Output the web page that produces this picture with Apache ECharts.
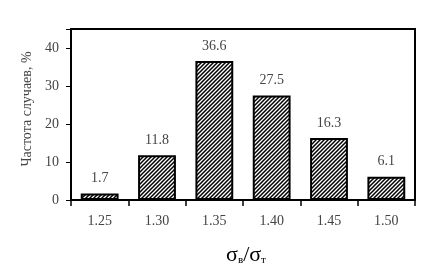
<!DOCTYPE html>
<html><head><meta charset="utf-8">
<script src="https://cdn.jsdelivr.net/npm/echarts@6/dist/echarts.min.js"></script>
<style>html,body{margin:0;padding:0;background:#fff}#c{width:430px;height:278px}</style>
</head><body><div id="c"></div>
<script>
var categories = ['1.25', '1.30', '1.35', '1.40', '1.45', '1.50'];
var values = [1.7, 11.8, 36.6, 27.5, 16.3, 6.1];
var yTicks = [0, 10, 20, 30, 40];

function hatch() {
  var c = document.createElement('canvas');
  c.width = 4; c.height = 4;
  var g = c.getContext('2d');
  g.fillStyle = '#fff'; g.fillRect(0, 0, 4, 4);
  g.strokeStyle = '#000'; g.lineWidth = 1.5;
  g.beginPath();
  g.moveTo(-1, 5); g.lineTo(5, -1);
  g.moveTo(-1, 1); g.lineTo(1, -1);
  g.moveTo(3, 5); g.lineTo(5, 3);
  g.stroke();
  return c;
}

var font = 'Liberation Serif';
var chart = echarts.init(document.getElementById('c'), null, {renderer: 'canvas'});
chart.setOption({
  animation: false,
  grid: {left: 71, right: 15, top: 29, bottom: 78, show: true, borderColor: '#000', borderWidth: 2,
    backgroundColor: 'transparent', containLabel: false, outerBoundsMode: 'none'},
  xAxis: {
    type: 'category', data: categories,
    name: '{s|σ}{b|в}{s|/σ}{b|т}', nameLocation: 'middle', nameGap: 44,
    nameTextStyle: {padding: [0, 0, 0, 6], rich: {
      s: {fontFamily: font, fontSize: 22, color: '#000'},
      b: {fontFamily: font, fontSize: 11, color: '#000', verticalAlign: 'bottom'}
    }},
    axisLine: {lineStyle: {color: '#000', width: 2}},
    axisTick: {show: true, length: 6, lineStyle: {color: '#000', width: 1.5}},
    axisLabel: {fontFamily: font, fontSize: 14, color: '#444', margin: 14}
  },
  yAxis: {
    type: 'value', min: 0, max: 45, interval: 10,
    name: 'Частота случаев, %', nameLocation: 'middle', nameGap: 35, nameRotate: 90,
    nameTextStyle: {fontFamily: font, fontSize: 14, color: '#444', padding: [0, 0, 0, 11]},
    axisLine: {show: true, lineStyle: {color: '#000', width: 2}},
    axisTick: {show: true, length: 5, lineStyle: {color: '#000', width: 1}},
    splitLine: {show: false},
    axisLabel: {fontFamily: font, fontSize: 14, color: '#444', margin: 12,
      formatter: function (v) { return yTicks.indexOf(v) >= 0 ? String(v) : ''; }}
  },
  series: [{
    type: 'bar', data: values, barCategoryGap: '34%',
    itemStyle: {color: {image: hatch(), repeat: 'repeat'}, borderColor: '#000', borderWidth: 2},
    label: {show: true, position: 'top', distance: 8, fontFamily: font, fontSize: 14, color: '#444',
      formatter: function (p) { return p.value.toFixed(1); }}
  }]
});
</script></body></html>
